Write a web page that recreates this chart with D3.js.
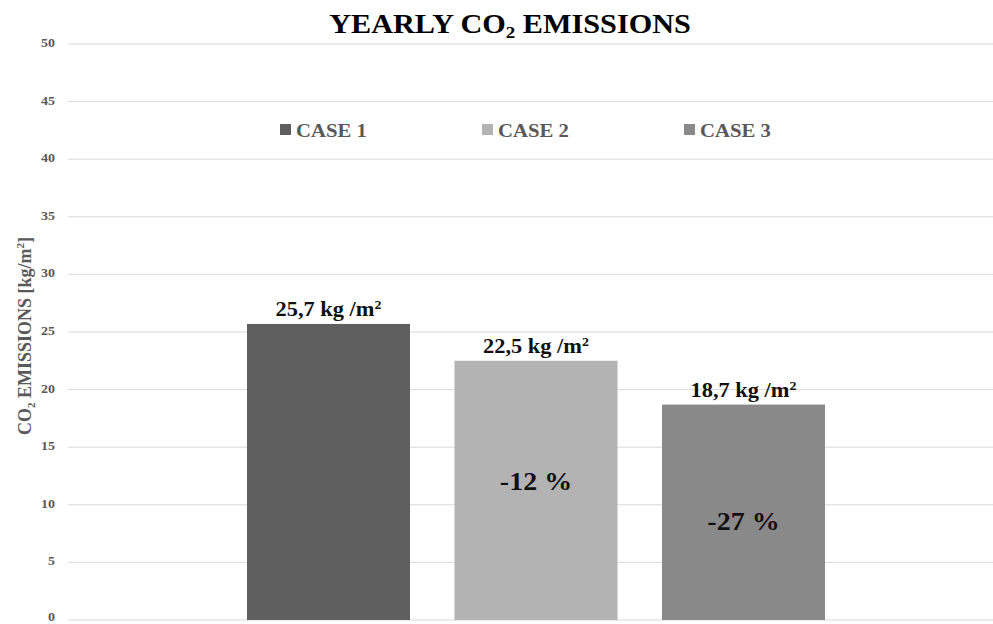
<!DOCTYPE html>
<html><head><meta charset="utf-8">
<script src="https://cdn.jsdelivr.net/npm/d3@7"></script>
<style>body{margin:0;background:#fff}svg{display:block}text{font-family:"Liberation Serif","Times New Roman",serif;font-weight:bold}</style>
</head><body><svg id="c" width="993" height="624"></svg>
<script>
const cases = ["CASE 1", "CASE 2", "CASE 3"];
const values = [25.7, 22.5, 18.7];
const valueLabels = ["25,7", "22,5", "18,7"];
const pctLabels = [null, "-12 %", "-27 %"];
const yTicks = [0, 5, 10, 15, 20, 25, 30, 35, 40, 45, 50];
const colors = ["#5f5f5f", "#b3b3b3", "#898989"];

const svg = d3.select("#c");
const SX = 1.12;
const y = d3.scaleLinear().domain([0, 50]).range([620, 44]);
const x = d3.scaleBand().domain(cases).range([247, 825]).paddingInner(0.2145).paddingOuter(0);

// gridlines
svg.append("g").selectAll("line").data(yTicks).join("line")
  .attr("x1", 68).attr("x2", 993).attr("y1", d => y(d)).attr("y2", d => y(d))
  .attr("stroke", "#d9d9d9").attr("stroke-width", 1);

// tick labels
svg.append("g").selectAll("text").data(yTicks).join("text")
  .attr("transform", d => `translate(55,${Math.min(y(d) + 3, 621)}) scale(${SX},1)`)
  .attr("text-anchor", "end").attr("font-size", 12.5).attr("fill", "#595959")
  .text(d => d);

// bars
svg.append("g").selectAll("rect").data(cases).join("rect")
  .attr("x", d => x(d)).attr("width", x.bandwidth())
  .attr("y", (d, i) => y(values[i])).attr("height", (d, i) => y(0) - y(values[i]))
  .attr("fill", (d, i) => colors[i]);

// value labels
const vl = svg.append("g").selectAll("text").data(cases).join("text")
  .attr("transform", (d, i) => `translate(${x(d) + x.bandwidth() / 2},${y(values[i]) - 8}) scale(${SX},1)`)
  .attr("text-anchor", "middle").attr("font-size", 20).attr("fill", "#111");
vl.append("tspan").text((d, i) => valueLabels[i] + " kg /m");
vl.append("tspan").attr("font-size", 12.5).attr("dy", -7).text("2");

// percentage labels
svg.append("g").selectAll("text").data(cases.filter((d, i) => pctLabels[i]))
  .join("text")
  .attr("transform", d => { const i = cases.indexOf(d); return `translate(${x(d) + x.bandwidth() / 2},${y(values[i] / 2) + (i === 1 ? 0 : 18)}) scale(${SX},1)`; })
  .attr("text-anchor", "middle").attr("font-size", 25).attr("fill", "#111")
  .text(d => pctLabels[cases.indexOf(d)]);

// title
const t = svg.append("text").attr("transform", `translate(510,33) scale(${SX},1)`)
  .attr("text-anchor", "middle").attr("font-size", 27).attr("fill", "#000");
t.append("tspan").text("YEARLY CO");
t.append("tspan").attr("font-size", 17).attr("dy", 5).text("2");
t.append("tspan").attr("dy", -5).text(" EMISSIONS");

// y axis title
const yt = svg.append("text").attr("transform", "translate(31,336) rotate(-90)")
  .attr("text-anchor", "middle").attr("font-size", 18).attr("fill", "#595959");
yt.append("tspan").text("CO");
yt.append("tspan").attr("font-size", 11).attr("dy", 4).text("2");
yt.append("tspan").attr("dy", -4).text(" EMISSIONS [kg/m");
yt.append("tspan").attr("font-size", 11).attr("dy", -7).text("2");
yt.append("tspan").attr("dy", 7).text("]");

// legend
const lg = svg.append("g").selectAll("g").data(cases).join("g")
  .attr("transform", (d, i) => `translate(${280 + i * 202},130)`);
lg.append("rect").attr("x", 0).attr("y", -6).attr("width", 11).attr("height", 11)
  .attr("fill", (d, i) => colors[i]);
lg.append("text").attr("transform", `translate(16,7) scale(${SX},1)`)
  .attr("font-size", 18.5).attr("fill", "#595959").text(d => d);
</script></body></html>
